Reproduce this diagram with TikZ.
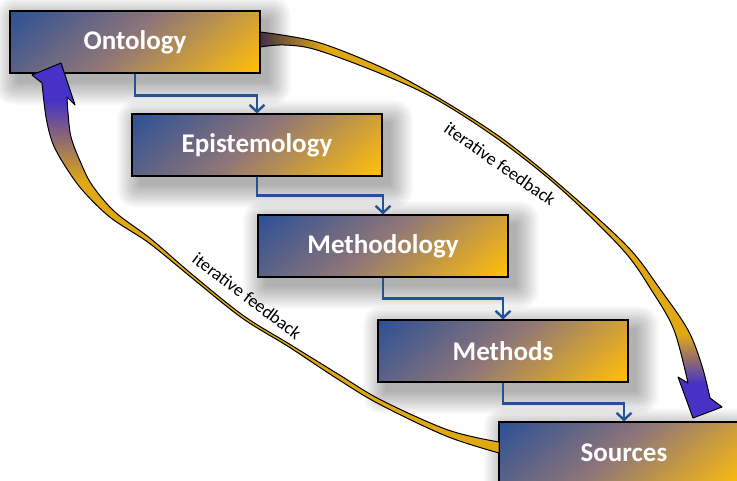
\documentclass[tikz,border=0pt]{standalone}
\usepackage{fontspec}
\setmainfont{Carlito}
\usetikzlibrary{arrows.meta,calc,backgrounds}

\definecolor{boxblue}{RGB}{44,80,150}
\definecolor{boxmauve}{RGB}{142,118,120}
\definecolor{boxgold}{RGB}{255,190,10}
\definecolor{linkblue}{RGB}{36,82,148}
\definecolor{loopgold}{RGB}{224,168,20}
\definecolor{loopdark}{RGB}{60,44,72}
\definecolor{loopviolet}{RGB}{70,50,198}

\pgfdeclarehorizontalshading{stagefill}{100bp}{%
  color(0bp)=(boxblue); color(15bp)=(boxblue); color(48bp)=(boxmauve);
  color(84bp)=(boxgold); color(100bp)=(boxgold)}

\tikzset{
  stage/.style={draw=black, line width=1.1pt, shading=stagefill, shading angle=-50,
    minimum width=250pt, minimum height=62pt, inner sep=0pt, text=white,
    font=\bfseries\fontsize{27}{31}\selectfont},
  haze/.style={fill=black, fill opacity=0.028},
  link/.style={draw=linkblue, line width=2.4pt, line join=miter,
    -{Straight Barb[length=7pt,width=15pt]}},
  loopedge/.style={draw=black, line width=1pt, line join=round},
  looplabel/.style={font=\fontsize{18}{21}\selectfont, inner sep=0pt},
}

% soft drop shadow behind a stage box: stacked translucent rectangles
\newcommand\stageshadow[1]{%
  \foreach \e in {22,20,...,0}{%
    \fill[haze, rounded corners=\e*0.8+0.5]
      ($(#1.north west)+(8-\e,9-\e)$) rectangle ($(#1.south east)+(8+\e,9+\e)$);
  }%
}

% feedback arrow from Ontology down to Sources
\def\downloop{plot[smooth, tension=0.55] coordinates {(260,32) (317,42) (383,68) (437,97) (500,137) (560,185) (627,246) (660,289) (688,330) (702,366) (710,398)}
  -- (722,407) -- (693,418) -- (678,377) -- (688,383)
  -- plot[smooth, tension=0.55] coordinates {(688,383) (674,330) (652,291) (623,250) (562,190) (502,142) (439,101) (384,75) (317,50) (284,45) (260,47)} -- cycle}

% feedback arrow from Sources back up to Ontology
\def\uploop{plot[smooth, tension=0.55] coordinates {(499,453) (446,436) (379,404) (336,378) (289,347) (242,318) (192,278) (149,243) (111,218) (84,192) (67,169) (53,144) (46,117) (42,83)}
  -- (32,75) -- (61,63) -- (75,105) -- (67,97)
  -- plot[smooth, tension=0.55] coordinates {(67,97) (68,113) (71,137) (80,161) (92,185) (115,212) (151,239) (194,276) (244,316) (291,345) (338,374) (381,400) (448,430) (499,442)} -- cycle}

\begin{document}
\begin{tikzpicture}[x=1pt, y=-1pt]
\useasboundingbox (0,0) rectangle (737,481);
\clip (0,0) rectangle (737,481);

% the five stages
\node[stage] (onto) at (135,42) {Ontology};
\node[stage] (epis) at (257,145) {Epistemology};
\node[stage] (mlgy) at (383,246) {Methodology};
\node[stage] (mthd) at (503,351) {Methods};
\node[stage] (srcs) at (624,453) {Sources};

\begin{scope}[on background layer]
  \fill[white] (0,0) rectangle (737,481);
  \stageshadow{onto}
  \stageshadow{epis}
  \stageshadow{mlgy}
  \stageshadow{mthd}
  \stageshadow{srcs}
\end{scope}

% elbow links between consecutive stages
\draw[link] (onto.south) -- ++(0,22) -| (epis.north);
\draw[link] (epis.south) -- ++(0,19) -| (mlgy.north);
\draw[link] (mlgy.south) -- ++(0,21) -| (mthd.north);
\draw[link] (mthd.south) -- ++(0,21) -| (srcs.north);

% downward feedback arrow
\begin{scope}
  \clip \downloop;
  \fill[loopgold] (240,20) rectangle (737,430);
  \shade[left color=loopdark, right color=loopgold] (258,20) rectangle (325,60);
  \shade[top color=loopgold, bottom color=loopviolet] (650,334) rectangle (737,384);
  \fill[loopviolet] (650,384) rectangle (737,430);
\end{scope}
\draw[loopedge] \downloop;

% upward feedback arrow
\begin{scope}
  \clip \uploop;
  \fill[loopgold] (20,50) rectangle (510,460);
  \fill[loopviolet] (20,50) rectangle (110,100);
  \shade[top color=loopviolet, bottom color=loopgold] (20,100) rectangle (120,182);
\end{scope}
\draw[loopedge] \uploop;

\node[looplabel, rotate=-35] (fbtop) at (500,164) {iterative feedback};
\node[looplabel, rotate=-37] (fbleft) at (247,296) {iterative feedback};
\end{tikzpicture}
\end{document}
